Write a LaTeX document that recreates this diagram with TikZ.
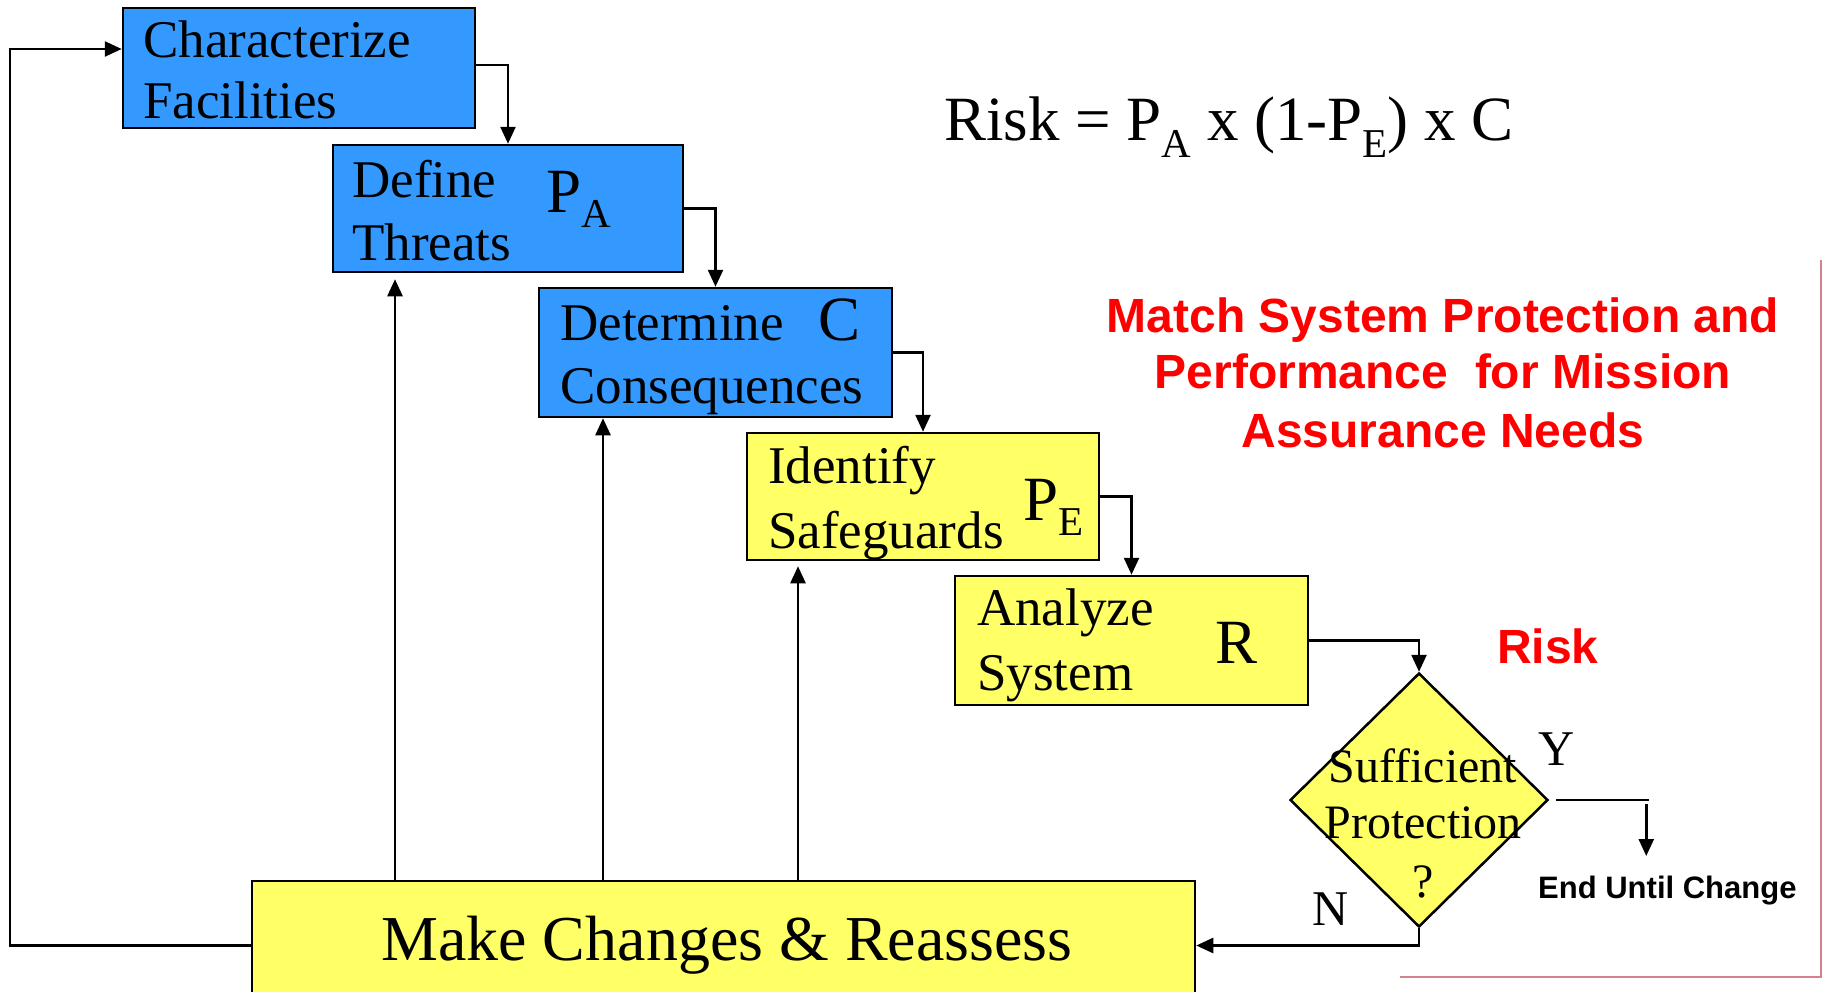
\documentclass[tikz,border=0pt]{standalone}
\usepackage{fontspec}
\setmainfont{Liberation Serif}
\newfontfamily\tms{Liberation Serif}
\newfontfamily\arl{Liberation Sans}
\usetikzlibrary{arrows.meta,shapes.geometric}
\definecolor{boxblue}{RGB}{51,153,255}
\definecolor{boxyellow}{RGB}{255,255,102}
\definecolor{framered}{RGB}{214,130,140}
\newcommand\lowsub[1]{\raisebox{-15pt}{\fontsize{41}{41}\selectfont #1}}
\newcommand\fsub[1]{\raisebox{-17pt}{\fontsize{41}{41}\selectfont #1}}
\begin{document}
\begin{tikzpicture}[x=1pt,y=-1pt,
  box/.style={draw=black, line width=2.5pt, rectangle, inner sep=0pt},
  bluebox/.style={box, fill=boxblue},
  yelbox/.style={box, fill=boxyellow},
  txt/.style={anchor=base west, inner sep=0pt, font=\tms\fontsize{53}{63}\selectfont},
  sym/.style={anchor=base west, inner sep=0pt, font=\tms\fontsize{63}{63}\selectfont},
  dtx/.style={anchor=base, inner sep=0pt, font=\tms\fontsize{48}{48}\selectfont},
  redt/.style={anchor=base, inner sep=0pt, text=red, font=\arl\bfseries\fontsize{48}{48}\selectfont},
  ln/.style={line width=2.5pt},
  arr/.style={line width=2.5pt, -{Triangle[length=17pt,width=15pt]}}
]
\useasboundingbox (0,0) rectangle (1823,991);
\fill[white] (0,0) rectangle (1823,991);
\draw[framered, line width=2pt] (1400,977) -- (1821,977) -- (1821,260);

% boxes
\node[bluebox, minimum width=352pt, minimum height=120pt] (b1) at (299,68) {};
\node[bluebox, minimum width=350pt, minimum height=127pt] (b2) at (508,208.5) {};
\node[bluebox, minimum width=353pt, minimum height=129pt] (b3) at (715.5,352.5) {};
\node[yelbox, minimum width=352pt, minimum height=127pt] (b4) at (923,496.5) {};
\node[yelbox, minimum width=353pt, minimum height=129pt] (b5) at (1131.5,640.5) {};
\node[yelbox, minimum width=943pt, minimum height=129pt] (b6) at (723.5,945.5) {};
\node[diamond, draw=black, line width=2.5pt, fill=boxyellow, inner sep=0pt,
      minimum width=258pt, minimum height=254pt] (d) at (1419,800) {};

% box texts
\node[txt] (t1a) at (143,57) {Characterize};
\node[txt] (t1b) at (143,118) {Facilities};
\node[txt] (t2a) at (352,197) {Define};
\node[txt] (t2b) at (352,260) {Threats};
\node[sym] (t2s) at (546,212) {P\lowsub{A}};
\node[txt] (t3a) at (560,340) {Determine};
\node[txt] (t3b) at (560,403) {Consequences};
\node[sym] (t3s) at (818,340) {C};
\node[txt] (t4a) at (768,483) {Identify};
\node[txt] (t4b) at (768,548) {Safeguards};
\node[sym] (t4s) at (1023,520) {P\lowsub{E}};
\node[txt] (t5a) at (977,625) {Analyze};
\node[txt] (t5b) at (977,690) {System};
\node[sym] (t5s) at (1215,663) {R};
\node[anchor=base west, inner sep=0pt, font=\tms\fontsize{64}{64}\selectfont] (t6) at (381,960) {Make Changes \& Reassess};

% diamond text
\node[dtx] (q1) at (1423,782) {Sufficient};
\node[dtx] (q2) at (1423,838) {Protection};
\node[dtx] (q3) at (1423,897) {?};
\node[anchor=base west, inner sep=0pt, font=\tms\fontsize{50}{50}\selectfont] (ylab) at (1538,765) {Y};
\node[anchor=base west, inner sep=0pt, font=\tms\fontsize{50}{50}\selectfont] (nlab) at (1312,925) {N};
\node[anchor=base west, inner sep=0pt, font=\arl\bfseries\fontsize{31}{31}\selectfont] (euc) at (1538,898) {End Until Change};

% formula and red notes
\node[anchor=base west, inner sep=0pt, font=\tms\fontsize{63}{63}\selectfont] (f) at (944,140)
  {Risk = P\fsub{A} x (1-P\fsub{E}) x C};
\node[redt] (m1) at (1443,332) {Match System Protection and};
\node[redt] (m2) at (1443,388) {Performance\ \ for Mission};
\node[redt] (m3) at (1443,447) {Assurance Needs};
\node[redt, anchor=base west] (rk) at (1497,663) {Risk};

% step connectors
\draw[arr] ([yshift=3pt]b1.east) -| (b2.north);
\draw[arr] (b2.east) -| (b3.north);
\draw[arr] (b3.east) -| (b4.north);
\draw[arr] (b4.east) -| (b5.north);
\draw[arr] (b5.east) -| (d.north);
\draw[arr] (d.south) |- (b6.east);
\draw[arr] (b6.west) -- ++(-241,0) |- ([yshift=19pt]b1.west);

% feedback arrows
\coordinate (u2) at ([xshift=-113pt,yshift=-6pt]b2.south);
\coordinate (u3) at ([xshift=-112.5pt]b3.south);
\coordinate (u4) at ([xshift=-125pt,yshift=-5pt]b4.south);
\draw[arr] (b6.north -| u2) -- (u2);
\draw[arr] (b6.north -| u3) -- (u3);
\draw[arr] (b6.north -| u4) -- (u4);

% yes branch
\draw[ln] ([xshift=7pt]d.east) -- ++(93,0) coordinate (yend);
\draw[arr] ([xshift=-3pt,yshift=-4pt]yend) -- ++(0,52);
\end{tikzpicture}
\end{document}
